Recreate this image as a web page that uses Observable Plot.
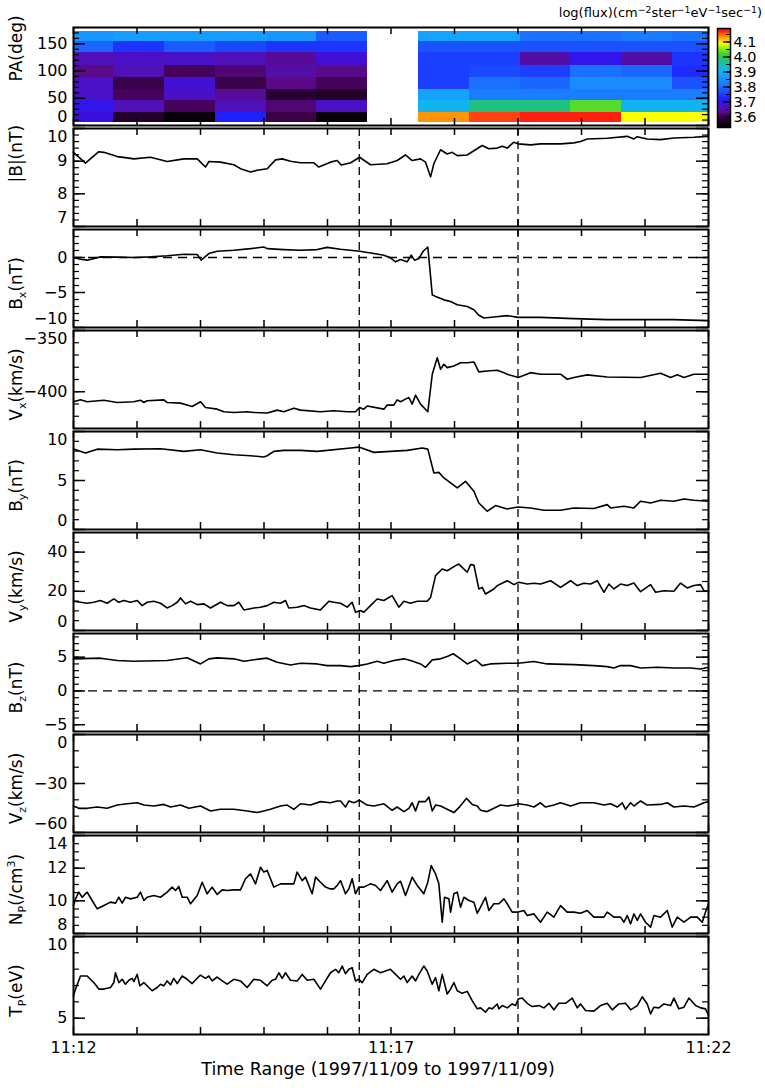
<!DOCTYPE html>
<html><head><meta charset="utf-8">
<script src="https://cdn.jsdelivr.net/npm/d3@7"></script>
<script src="https://cdn.jsdelivr.net/npm/@observablehq/plot@0.6"></script>
<style>
html,body{margin:0;padding:0;background:#fff;}
#root{position:relative;width:765px;height:1088px;overflow:hidden;font-family:"DejaVu Sans",sans-serif;}
.pane{position:absolute;left:0;}
.pane svg{display:block;}
#cbtitle{position:absolute;right:3px;top:5px;font-size:13px;color:#000;white-space:nowrap;line-height:16px;}
#cbtitle sup{font-size:0.72em;vertical-align:0.45em;line-height:0;}
</style></head><body><div id="root"></div>
<script>
// ---------------- data ----------------
const xTickVals = [0, 300, 600];            // seconds after 11:12:00
const xTickLabels = ["11:12", "11:17", "11:22"];
const minuteTicks = [0, 60, 120, 180, 240, 300, 360, 420, 480, 540, 600];
const eventTimes = [270, 420];              // 11:16:30 and 11:19:00
const xTitle = "Time Range (1997/11/09 to 1997/11/09)";

// pitch-angle spectrogram
const paEdges = [172, 153.5, 133.5, 109.5, 88, 67, 45.5, 24, 6];   // top -> bottom
const colStart = [-10, 38, 86, 134, 182, 230, 326, 374, 422, 470, 518, 566];
const colWidth = 48;
const fluxCols = [
  [3.86, 3.79, 3.66, 3.63, 3.67, 3.67, 3.70, 3.69],
  [3.87, 3.74, 3.67, 3.66, 3.60, 3.61, 3.66, 3.57],
  [3.87, 3.78, 3.67, 3.61, 3.68, 3.67, 3.61, 3.54],
  [3.87, 3.76, 3.66, 3.62, 3.60, 3.64, 3.66, 3.72],
  [3.86, 3.74, 3.64, 3.65, 3.63, 3.58, 3.62, 3.60],
  [3.78, 3.74, 3.68, 3.63, 3.61, 3.57, 3.67, 3.54],
  [3.88, 3.77, 3.75, 3.75, 3.75, 3.88, 3.91, 4.13],
  [3.88, 3.77, 3.75, 3.76, 3.80, 3.82, 3.97, 4.16],
  [3.80, 3.77, 3.65, 3.75, 3.79, 3.82, 3.97, 4.17],
  [3.80, 3.77, 3.70, 3.80, 3.84, 3.82, 4.03, 4.17],
  [3.82, 3.77, 3.65, 3.79, 3.84, 3.82, 3.91, 4.09],
  [3.80, 3.77, 3.74, 3.73, 3.77, 3.82, 3.91, 4.09]
];
const cDomain = [3.53, 4.19];
const cStops  = [3.53, 3.56, 3.60, 3.63, 3.66, 3.69, 3.72, 3.76, 3.80, 3.85, 3.90, 3.94, 3.97, 4.02, 4.05, 4.09, 4.12, 4.15, 4.17, 4.19];
const cColors = ["#000000","#1a0020","#3a0048","#5a0a88","#5010b8","#3a10e0","#2020ff","#1a48ff","#1a70ff","#1a90ff","#10b0ff","#18c0c0","#20c080","#40d040","#80f000","#ffff00","#ffb000","#ff6010","#ff2010","#ff0000"];
const cbLabels = [3.6, 3.7, 3.8, 3.9, 4.0, 4.1];

// time series: [seconds after 11:12:00, value]
const bmag = [[0,9.27],[11.3,8.94],[23.9,9.29],[28.7,9.27],[41.3,9.14],[50.7,9.1],[57,9.07],[72.8,9.12],[88.5,8.99],[104.3,9.07],[116.9,9.07],[124.7,8.82],[127.9,8.99],[138.9,8.97],[151.5,8.89],[157.8,8.77],[167.3,8.67],[173.5,8.72],[183,8.77],[190.9,9.04],[197.2,9.07],[205,9.0],[214.5,8.95],[227.1,8.95],[231.8,8.82],[242.8,8.97],[249.1,9.02],[253,8.88],[262,8.95],[270.3,9.12],[280.6,8.89],[296.4,8.92],[305.8,9.02],[313.7,9.19],[320,9.02],[327.9,9.07],[332.6,8.97],[337.4,8.52],[340.5,8.92],[346.8,9.35],[353.1,9.22],[357.8,9.27],[362.6,9.17],[372,9.19],[378.3,9.32],[386.2,9.48],[392.5,9.38],[400.4,9.4],[405.1,9.46],[409.8,9.4],[416.1,9.58],[420.2,9.53],[431.9,9.5],[441.3,9.53],[460.2,9.53],[472.8,9.56],[479.1,9.6],[485.4,9.68],[504.3,9.7],[523.2,9.76],[529.5,9.68],[532.7,9.75],[542.1,9.68],[554.7,9.66],[567.3,9.71],[586.2,9.73],[598.8,9.76],[600,9.76]];
const bx = [[0,0],[6.6,-0.24],[12.9,-0.38],[25.5,0.09],[41.3,0.05],[57,0],[72.8,0.09],[88.5,0.24],[104.3,0.47],[116.9,0.42],[120.6,-0.38],[127.9,0.56],[135.8,0.89],[151.5,1.04],[167.3,1.27],[179.8,1.5],[183,1.27],[198.7,1.13],[214.5,1.04],[230.2,1.13],[239.7,1.45],[252.3,1.18],[270.3,0.89],[283.8,0.56],[293.3,0.33],[299.5,-0.05],[304.3,-0.62],[309,-0.29],[315.3,-0.62],[319.1,0.33],[322.2,-0.38],[326.3,-0.14],[330.4,0.89],[334.8,1.5],[339,-5.34],[342.1,-5.57],[350,-6.05],[356.3,-6.28],[362.6,-6.75],[372,-6.99],[378.3,-7.46],[383,-8.26],[387.8,-8.64],[397.2,-8.5],[409.8,-8.31],[420.2,-8.55],[441.3,-8.55],[472.8,-8.73],[504.3,-8.88],[535.8,-8.88],[567.3,-8.88],[598.8,-9.02],[600,-9.0]];
const vx = [[0,-408.2],[6.6,-406.6],[12.9,-408.2],[28.7,-406.9],[41.3,-408.8],[57,-408.2],[63.3,-406.9],[66.5,-408.8],[69.6,-407.4],[85.4,-406.6],[88.5,-408.8],[101.1,-409.3],[112.1,-412],[120,-408.2],[124.7,-412.8],[135.8,-414.2],[142,-416.3],[151.5,-416.9],[164.1,-416.3],[170.4,-416.9],[183,-417.4],[192.5,-415],[198.7,-416.3],[208.2,-413.4],[214.5,-415],[233.4,-416.3],[246,-415.5],[258.6,-416.3],[266.5,-416.3],[270.3,-412.8],[274.3,-414.2],[277.5,-411.6],[293.3,-414.2],[296.4,-410.9],[302.7,-410.9],[305.8,-406.6],[309,-408.2],[313.7,-406],[316.9,-404.7],[320,-410.1],[323.2,-402.8],[327.9,-410.1],[334.8,-416.3],[339,-385.7],[343.7,-372.2],[346.8,-381.7],[350,-377.6],[353.1,-380.3],[359.4,-379],[365.7,-376.3],[372,-376.3],[378.3,-375.7],[383,-383.8],[390.9,-383],[400.4,-382.5],[406.7,-384.4],[409.8,-385.7],[420.2,-388.4],[431.9,-384.4],[441.3,-385.7],[460.2,-385.7],[466.5,-389.8],[472.8,-388.4],[485.4,-386.2],[504.3,-387.9],[535.8,-388.4],[554.7,-384.9],[564.2,-388.4],[570.5,-386.2],[576.8,-388.4],[586.2,-385.7],[600,-385.7]];
const by = [[0,8.21],[11.3,7.8],[22.4,8.2],[41.3,8.14],[57,8.2],[82.2,8.24],[104.3,7.97],[120,8.14],[135.8,7.8],[151.5,7.63],[167.3,7.53],[179.8,7.39],[183,7.53],[189.3,7.97],[198.7,8.07],[214.5,8.07],[230.2,7.97],[239.7,8.07],[261.7,8.31],[269.6,8.41],[283.8,7.87],[299.5,7.97],[315.3,8.07],[329.5,8.31],[334.8,8.2],[340.5,5.76],[345.2,5.83],[350,5.26],[356.3,4.75],[362.6,4.24],[370.4,4.92],[378.3,3.9],[383,2.71],[390.9,1.86],[398.8,2.44],[409.8,2.1],[420.2,2.3],[431.9,2.2],[444.5,1.97],[460.2,1.97],[472.8,2.2],[491.7,2.14],[504.3,2.54],[507.5,2.2],[520.1,2.37],[529.5,2.2],[535.8,2.88],[545.3,2.71],[554.7,2.98],[567.3,2.88],[576.8,3.12],[586.2,2.98],[600,2.88]];
const vy = [[0,14.9],[6.6,14.4],[12.9,13.9],[19.2,14.4],[25.5,15.3],[31.8,13.9],[38.1,16.1],[42.8,14.4],[47.6,15.3],[53.9,14.4],[60.2,15.3],[64.9,12.7],[69.6,14.4],[75.9,14.9],[82.2,13.9],[88.5,11.5],[93.2,12.7],[98,14.4],[101.1,16.6],[105.8,13.6],[110.6,14.9],[116.9,13.2],[123.2,13.6],[129.5,11.5],[138.9,14.4],[145.2,12.7],[151.5,12.7],[156.2,14.4],[161,10.5],[170.4,11.5],[176.7,11.9],[183,12.7],[189.3,14.4],[195.6,13.9],[200.3,15.3],[203.4,11.5],[211.3,11.9],[217.6,12.7],[223.9,11.5],[233.4,10.5],[241.3,14.9],[246,14.4],[252.3,13.9],[258.6,11.9],[263.3,14.4],[266.5,9.3],[271.2,10.2],[274.3,9.3],[280.6,12.7],[286.9,16.1],[293.2,15.3],[301.1,17.8],[307.4,11.9],[312.2,14.9],[318.5,13.9],[324.8,14.9],[334.2,14.9],[337.4,16.9],[342.1,28],[348.4,31.4],[353.1,30.5],[361,33.1],[364.1,33.9],[372,29.7],[375.2,33.6],[378.3,33.4],[383,21.2],[386.2,22],[389.3,18.6],[397.2,21.2],[400.4,22.9],[403.5,23.7],[409.8,25.4],[416.1,23.4],[420.8,24.6],[428.7,23.7],[435,24.1],[441.3,23.7],[450.8,25.4],[460.2,22],[469.7,25.4],[476,22.9],[482.3,24.1],[488.6,23.7],[494.9,25.4],[501.2,19.5],[505.9,23.7],[510.6,21.2],[516.9,23.7],[523.2,23],[529.5,24.2],[535.8,19.8],[545.3,23.4],[550,19.5],[557.9,20.3],[567.3,20],[573.6,24.2],[579.9,21.7],[586.2,23],[592.5,23.4],[595.7,20.3],[600,20]];
const bz = [[0,4.75],[25.5,4.85],[41.3,4.5],[57,4.4],[88.5,4.5],[107.4,4.9],[120,4.0],[127.9,4.75],[135.8,4.9],[151.5,4.75],[161,4.4],[176.7,4.75],[183,4.85],[192.5,4.25],[205,3.85],[214.5,4.1],[230.2,4.0],[239.7,3.75],[252.3,3.75],[261.7,3.6],[269.6,3.75],[277.5,4.0],[286.9,4.4],[293.2,4.1],[302.7,4.5],[312.2,4.75],[318.5,4.5],[327.9,4.0],[332.6,3.5],[339,4.6],[346.8,4.75],[353.1,5.1],[358.8,5.5],[365.7,4.75],[372,4.0],[379.9,4.6],[386.2,3.75],[394,4.0],[409.8,4.1],[420.2,4.1],[435,4.35],[447.6,4.0],[472.8,3.9],[491.7,3.75],[504.3,3.6],[510.6,3.4],[516.9,3.75],[526.4,3.75],[535.8,3.4],[551.6,3.5],[567.3,3.4],[583.1,3.4],[592.5,3.25],[600,3.5]];
const vz = [[0,-43.8],[5,-45.2],[12.9,-45.2],[22.4,-44.4],[31.8,-45.2],[41.3,-43.2],[50.7,-42.4],[60.2,-41.8],[66.5,-43.2],[75.9,-43.8],[85.4,-42.8],[91.7,-44.4],[101.1,-43.2],[109,-45.2],[120,-43.8],[129.5,-46.8],[138.9,-45.8],[151.5,-45.8],[164.1,-46.8],[173.5,-47.8],[179.8,-46.8],[186.1,-45.8],[195.6,-43.8],[201.9,-43.2],[208.2,-45.8],[214.5,-42.4],[223.9,-43.2],[233.4,-41.1],[242.8,-41.8],[249.1,-40.7],[252.3,-40.7],[257,-44.4],[260.2,-40.7],[264.9,-41.8],[270.3,-40.3],[277.5,-43.2],[283.8,-43.8],[293.3,-42.4],[301.1,-46.4],[305.8,-44.4],[312.2,-47.2],[316.9,-45.2],[320,-41.8],[323.2,-46.8],[326.3,-41.1],[332.6,-41.1],[335.8,-38.3],[339,-46.8],[342.1,-43.2],[346.8,-43.8],[353.1,-45.8],[359.4,-47.8],[364.1,-44.8],[371.4,-39.1],[376.7,-42.8],[381.5,-43.8],[384.6,-46.4],[390.9,-47.2],[397.2,-45.2],[403.5,-43.2],[409.8,-43.8],[416.1,-43.2],[420.2,-42.4],[428.7,-43.2],[435,-44.4],[441.3,-41.8],[446,-44.4],[453.9,-43.2],[460.2,-41.8],[469.7,-43.8],[479.1,-41.8],[491.7,-41.8],[501.2,-43.2],[507.5,-42.4],[513.8,-44.4],[518.5,-41.8],[521.6,-45.8],[526.4,-41.8],[529.5,-43.8],[535.8,-40.7],[542.1,-43.2],[554.7,-42.8],[561,-41.8],[567.3,-44.4],[576.8,-43.8],[586.2,-44.4],[595.7,-41.8],[600,-41.1]];
const np = [[0,9.71],[1.9,10.12],[5,10.53],[8.2,10.22],[12.9,10.53],[17.6,10.02],[22.4,9.51],[28.7,9.71],[35,9.92],[39.7,9.86],[42.8,10.22],[46,9.86],[49.1,10.22],[53.9,10.12],[60.2,10.22],[63.3,10.53],[66.5,10.02],[69.6,10.22],[75.9,10.33],[82.2,10.22],[88.5,10.53],[93.2,10.84],[96.4,10.63],[99.5,10.88],[102.7,10.22],[107.4,10.22],[110.6,9.82],[116.9,10.33],[121.6,11.14],[126.3,10.43],[131,10.84],[135.8,10.39],[140.5,10.67],[145.2,10.63],[151.5,10.67],[157.8,10.67],[162.5,11.35],[167.3,11.65],[172,11.04],[176.7,12.06],[179.8,11.76],[183,11.86],[189.3,10.84],[195.6,11.04],[201.9,11.04],[208.2,11.04],[211.3,11.76],[216.1,11.24],[219.2,11.45],[225.5,10.43],[228.7,11.45],[233.4,11.14],[238.1,10.84],[242.8,10.73],[246,10.73],[249.1,10.94],[252.3,11.24],[257,10.43],[260.2,10.73],[263.3,11.35],[266.5,10.43],[269.6,10.84],[274.3,10.84],[280.6,11.04],[285.4,10.94],[290.1,10.63],[296.4,11.24],[301.1,10.53],[305.8,11.04],[309,11.2],[313.7,10.33],[320,11.45],[324.8,10.94],[331,10.43],[334.8,11.14],[338,12.16],[342.1,11.65],[345.2,11.04],[348.4,8.69],[350.6,10.22],[354.7,10.12],[356.3,9.31],[359.4,10.43],[362.6,10.53],[365.7,9.61],[368.9,10.22],[373.6,10.02],[378.3,9.92],[381.5,9.24],[384.6,9.61],[389.3,10.22],[392.5,9.41],[397.2,9.82],[401.9,9.82],[406.7,10.12],[409.8,9.82],[414.5,9.31],[420.2,9.31],[425.6,9.41],[428.7,9.1],[435,9.2],[441.3,8.69],[447.6,9.31],[453.9,9.0],[460.2,9.71],[466.5,9.31],[472.8,9.31],[479.1,9.24],[485.4,9.41],[491.7,9.0],[501.2,9.0],[504.3,9.31],[510.6,9.0],[516.9,9.0],[520.1,8.69],[523.2,9.1],[526.4,8.59],[529.5,9.2],[532.7,8.8],[535.8,9.2],[540.5,8.69],[545.3,8.39],[548.4,9.1],[554.7,9.0],[561,9.41],[565.7,8.39],[570.5,9.0],[576.8,8.69],[583.1,9.0],[589.4,9.0],[594.1,8.69],[597.2,9.31],[600,9.82]];
const tp = [[0,6.37],[1.9,6.78],[6.6,7.58],[12.9,7.58],[19.2,7.18],[23.9,6.78],[28.7,6.78],[35,6.88],[38.1,7.18],[39.7,7.78],[42.8,7.18],[46,7.38],[49.1,7.08],[52.3,7.32],[55.4,7.44],[57,7.24],[60.2,7.68],[62.7,6.98],[66.5,7.18],[71.2,6.88],[74.3,6.68],[79.1,6.88],[82.2,7.08],[85.4,6.98],[88.5,7.28],[91.7,7.04],[94.8,7.44],[98,7.12],[102.7,7.58],[107.4,7.38],[112.1,7.12],[116.9,7.44],[120,7.64],[124.7,7.44],[127.9,7.58],[131,7.28],[135.8,7.52],[140.5,7.28],[145.2,7.08],[151.5,7.38],[157.8,7.28],[164.1,6.88],[170.4,7.38],[176.7,7.32],[183,6.98],[187.7,7.32],[190.9,7.38],[194,7.78],[197.2,7.44],[200.3,7.78],[205,7.32],[211.3,7.28],[216.1,7.68],[220.8,7.32],[227.1,7.38],[233.4,6.78],[238.1,7.28],[242.8,7.78],[247.6,7.99],[250.7,7.78],[253.9,8.19],[257,7.72],[260.2,7.99],[263.3,8.09],[266.5,7.28],[269.6,7.38],[272.8,7.18],[277.5,7.68],[283.8,7.99],[290.1,7.78],[294.8,7.89],[299.5,7.99],[304.3,7.68],[309,7.38],[312.2,7.58],[315.3,7.18],[320,7.58],[323.2,7.28],[326.3,7.68],[331,8.19],[334.2,7.89],[338.9,7.08],[342.1,7.48],[345.2,6.68],[348.4,7.68],[353.1,6.48],[356.3,6.78],[359.4,7.18],[362.6,6.68],[367.3,6.52],[372,6.64],[376.7,6.07],[381.5,5.57],[384.6,5.63],[389.3,5.37],[392.5,5.63],[395.6,5.57],[400.4,5.87],[401.9,5.57],[405.1,5.77],[409.8,5.63],[414.5,5.87],[417.7,5.77],[420.2,6.17],[424,6.23],[428.7,5.91],[433.4,5.71],[439.7,5.77],[444.5,5.63],[449.2,5.91],[453.9,5.51],[458.6,5.91],[464.9,5.91],[471.2,6.23],[476,5.63],[479.1,5.87],[483.8,5.47],[491.7,5.43],[498,5.77],[504.3,5.91],[509,5.51],[515.3,5.87],[521.6,5.91],[526.4,5.51],[532.7,5.77],[537.4,6.31],[542.1,5.87],[545.3,5.26],[548.4,5.67],[553.1,5.63],[557.9,5.87],[564.2,5.77],[567.3,6.23],[572,5.57],[576.8,5.67],[581.5,6.23],[587.8,5.77],[592.5,5.63],[597.2,5.57],[600,5.17]];

const panels = [
  {title: "|B|(nT)",    data: bmag, domain: [7, 10],      major: [7, 8, 9, 10],    minor: 0.2, labels: [7, 8, 9, 10]},
  {title: "B_x(nT)",    data: bx,   domain: [-10, 4],     major: [-10, -5, 0],     minor: 1,   labels: [-10, -5, 0], zero: true},
  {title: "V_x(km/s)",  data: vx,   domain: [-430, -350], major: [-400, -350],     minor: 10,  labels: [-400, -350]},
  {title: "B_y(nT)",    data: by,   domain: [0, 10],      major: [0, 5, 10],       minor: 1,   labels: [0, 5, 10]},
  {title: "V_y(km/s)",  data: vy,   domain: [0, 50],      major: [0, 20, 40],      minor: 5,   labels: [0, 20, 40]},
  {title: "B_z(nT)",    data: bz,   domain: [-6, 8.5],    major: [-5, 0, 5],       minor: 1,   labels: [-5, 0, 5], zero: true},
  {title: "V_z(km/s)",  data: vz,   domain: [-60, 0],     major: [-60, -30, 0],    minor: 10,  labels: [-60, -30, 0]},
  {title: "N_P(/cm^3)", data: np,   domain: [8, 14],      major: [8, 10, 12, 14],  minor: 0.5, labels: [8, 10, 12, 14]},
  {title: "T_P(eV)",    data: tp,   domain: [4, 10],      major: [5, 10],          minor: 1,   labels: [5, 10]}
];
const paPanel = {title: "PA(deg)", domain: [0, 180], major: [0, 50, 100, 150], minor: 10, labels: [0, 50, 100, 150]};

// ---------------- layout ----------------
const W = 765, ML = 73, MR = 57, PH = 101, MT = 1, MB = 2, TOP0 = 26;
const FW = W - ML - MR, FH = PH - MT - MB;
const FONT = "DejaVu Sans";
const root = document.getElementById("root");

const fluxColor = d3.scaleLinear().domain(cStops).range(cColors).clamp(true);
const colorOpts = {type: "linear", domain: cDomain, interpolate: t => fluxColor(cDomain[0] + t * (cDomain[1] - cDomain[0]))};

function fmt(v) { return v < 0 ? "\u2212" + Math.abs(v) : String(v); }
function minorTicks(lo, hi, step) {
  const a = [];
  for (let k = Math.ceil(lo / step - 1e-9); k * step <= hi + 1e-9; k++) a.push(+(k * step).toFixed(6));
  return a;
}
function decor(cfg) {
  const [lo, hi] = cfg.domain;
  const minor = minorTicks(lo, hi, cfg.minor);
  const m = [
    Plot.frame({stroke: "#000", strokeWidth: 2}),
    Plot.tickY(cfg.major, {y: d => d, insetRight: FW - 12, strokeWidth: 1.5}),
    Plot.tickY(cfg.major, {y: d => d, insetLeft: FW - 12, strokeWidth: 1.5}),
    Plot.tickY(minor, {y: d => d, insetRight: FW - 6, strokeWidth: 1.2}),
    Plot.tickY(minor, {y: d => d, insetLeft: FW - 6, strokeWidth: 1.2}),
    Plot.tickX(minuteTicks, {x: d => d, insetBottom: FH - 7, strokeWidth: 1.5}),
    Plot.tickX(minuteTicks, {x: d => d, insetTop: FH - 7, strokeWidth: 1.5})
  ];
  // labels at the frame edges are nudged inside the panel, as in the original
  const groups = [
    [cfg.labels.filter(v => v !== lo && v !== hi), 0],
    [cfg.labels.filter(v => v === hi), 8.5],
    [cfg.labels.filter(v => v === lo), -8.5]
  ];
  for (const [arr, shift] of groups) {
    if (arr.length) m.push(Plot.text(arr, {y: d => d, text: d => fmt(d), frameAnchor: "left", textAnchor: "end", dx: -6, dy: shift, fontSize: 16}));
  }
  m.push(Plot.text([cfg.title], {frameAnchor: "left", rotate: -90, dx: -57, dy: 5, fontSize: 17, className: "ytitle"}));
  return m;
}
function place(svg, top, left = 0) {
  const div = document.createElement("div");
  div.className = "pane";
  div.style.top = top + "px";
  div.style.left = left + "px";
  div.appendChild(svg);
  root.appendChild(div);
}
const baseOpts = (h, mb) => ({
  width: W, height: h, marginLeft: ML, marginRight: MR, marginTop: MT, marginBottom: mb,
  x: {domain: [0, 600], axis: null},
  style: {fontFamily: FONT, fontSize: "16px", background: "transparent", overflow: "visible", color: "#000"}
});

// ---------------- heatmap panel ----------------
const cells = [];
colStart.forEach((t, c) => fluxCols[c].forEach((f, r) => cells.push({t1: t, t2: t + colWidth, pa1: paEdges[r + 1], pa2: paEdges[r], f})));
place(Plot.plot({
  ...baseOpts(PH, MB),
  y: {domain: paPanel.domain, axis: null},
  color: colorOpts,
  marks: [
    Plot.rect(cells, {x1: "t1", x2: "t2", y1: "pa1", y2: "pa2", fill: "f", clip: true, shapeRendering: "crispEdges"}),
    ...decor(paPanel)
  ]
}), TOP0);

// ---------------- colour bar ----------------
const rampN = 220, rampStep = (cDomain[1] - cDomain[0]) / rampN;
const ramp = d3.range(rampN).map(i => cDomain[0] + i * rampStep);
place(Plot.plot({
  width: 65, height: PH, marginLeft: 17, marginRight: 35, marginTop: 2, marginBottom: 0,
  y: {domain: cDomain, axis: null},
  color: colorOpts,
  style: {fontFamily: FONT, background: "transparent", overflow: "visible", color: "#000"},
  marks: [
    Plot.rect(ramp, {y1: d => d, y2: d => d + rampStep * 1.2, fill: d => d + rampStep / 2, shapeRendering: "crispEdges"}),
    Plot.frame({strokeWidth: 1.5}),
    Plot.tickY(minorTicks(3.55, 4.15, 0.05), {y: d => d, insetLeft: 9}),
    Plot.tickY(cbLabels, {y: d => d, insetLeft: 6, strokeWidth: 1.3}),
    Plot.text(cbLabels, {y: d => d, text: d => d.toFixed(1), frameAnchor: "right", textAnchor: "start", dx: 3, fontSize: 14.5})
  ]
}), TOP0, 700);
const cbt = document.createElement("div");
cbt.id = "cbtitle";
cbt.innerHTML = "log(flux)(cm<sup>\u22122</sup>ster<sup>\u22121</sup>eV<sup>\u22121</sup>sec<sup>\u22121</sup>)";
root.appendChild(cbt);

// ---------------- line panels ----------------
panels.forEach((cfg, i) => {
  const last = i === panels.length - 1;
  const extra = last ? 55 : 0;
  const marks = [];
  if (cfg.zero) marks.push(Plot.ruleY([0], {strokeDasharray: "9,6", strokeWidth: 1.3}));
  marks.push(Plot.ruleX(eventTimes, {strokeDasharray: "8,5", strokeWidth: 1.3}));
  marks.push(Plot.line(cfg.data, {x: d => d[0], y: d => d[1], stroke: "#000", strokeWidth: 1.6}));
  marks.push(...decor(cfg));
  if (last) {
    marks.push(Plot.text(xTickVals, {x: d => d, text: (d, j) => xTickLabels[j], frameAnchor: "bottom", dy: 18, fontSize: 16}));
    marks.push(Plot.text([xTitle], {frameAnchor: "bottom", dx: -13, dy: 40, fontSize: 17.5}));
  }
  place(Plot.plot({
    ...baseOpts(PH + extra, MB + extra),
    y: {domain: cfg.domain, axis: null},
    marks
  }), TOP0 + (i + 1) * PH);
});

// ---------------- subscripts / superscripts in axis titles ----------------
const NS = "http://www.w3.org/2000/svg";
root.querySelectorAll("svg text").forEach(el => {
  const s = el.textContent;
  if (!/[_^]/.test(s)) return;
  while (el.firstChild) el.removeChild(el.firstChild);
  let i = 0, buf = "";
  const flush = () => { if (buf) { const t = document.createElementNS(NS, "tspan"); t.textContent = buf; el.appendChild(t); buf = ""; } };
  while (i < s.length) {
    const ch = s[i];
    if (ch === "_" || ch === "^") {
      flush();
      const t = document.createElementNS(NS, "tspan");
      t.textContent = s[i + 1];
      t.setAttribute("font-size", "11");
      t.setAttribute("dy", ch === "_" ? "4" : "-7");
      el.appendChild(t);
      i += 2;
      let rest = "";
      while (i < s.length && s[i] !== "_" && s[i] !== "^") rest += s[i++];
      const back = document.createElementNS(NS, "tspan");
      back.setAttribute("dy", ch === "_" ? "-4" : "7");
      back.textContent = rest;
      el.appendChild(back);
    } else { buf += ch; i++; }
  }
  flush();
  // centre the whole (multi-tspan) title explicitly along its own direction
  el.setAttribute("text-anchor", "start");
  const len = el.getComputedTextLength();
  el.setAttribute("x", (-len / 2).toFixed(2));
});
</script></body></html>
